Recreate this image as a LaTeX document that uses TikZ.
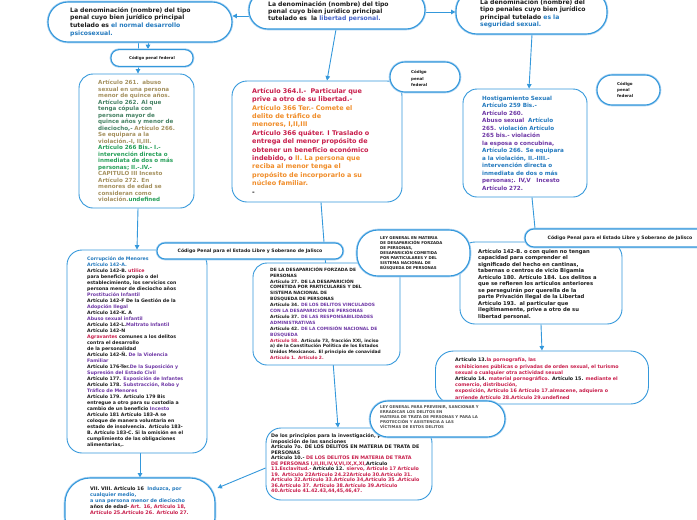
\documentclass[tikz,border=0pt]{standalone}
\usepackage{fontspec}
\setmainfont{DejaVu Sans}
\usetikzlibrary{arrows.meta,calc}
\definecolor{lineblue}{RGB}{52,152,219}
\definecolor{glowblue}{RGB}{170,210,242}
\definecolor{tblack}{RGB}{28,28,28}
\definecolor{tblue}{RGB}{36,122,190}
\definecolor{tperi}{RGB}{72,100,200}
\definecolor{tcrim}{RGB}{200,30,75}
\definecolor{torange}{RGB}{240,140,40}
\definecolor{tpurple}{RGB}{110,55,165}
\definecolor{tolive}{RGB}{165,145,95}
\definecolor{tgreen}{RGB}{40,160,90}
\definecolor{tgreend}{RGB}{70,130,100}
\definecolor{tgray}{RGB}{80,80,80}
\newcommand\tCr[1]{\textcolor{tcrim}{#1}}
\newcommand\tOr[1]{\textcolor{torange}{#1}}
\newcommand\tBl[1]{\textcolor{tblue}{#1}}
\newcommand\tPe[1]{\textcolor{tperi}{#1}}
\newcommand\tPu[1]{\textcolor{tpurple}{#1}}
\newcommand\tOl[1]{\textcolor{tolive}{#1}}
\newcommand\tGr[1]{\textcolor{tgreen}{#1}}
\newcommand\tGd[1]{\textcolor{tgreend}{#1}}
\newcommand\myfs[2]{\fontsize{#1}{#2}\selectfont}
\begin{document}
\begin{tikzpicture}[x=1pt,y=-1pt,
  box/.style={draw=lineblue,line width=0.9pt,fill=white,inner sep=0pt,rounded corners=14pt},
  pill/.style={draw=lineblue,line width=1.1pt,fill=white,inner sep=0pt,
    preaction={draw=glowblue,line width=2.6pt}},
  txt/.style={inner sep=0pt,anchor=north west,align=left,text width=420pt,text=tblack,font=\bfseries},
  conn/.style={draw=lineblue,line width=0.9pt},
  arr/.style={conn,-{Triangle[length=4.5pt,width=4.5pt]}}]
\path[use as bounding box,fill=white] (0,0) rectangle (697,520);

% ---------- shapes (positions only, for connectors) ----------
\path
  node[box,minimum width=184pt,minimum height=40pt,draw=none,fill=none] (A) at (140,22) {}
  node[box,minimum width=176pt,minimum height=38pt,draw=none,fill=none] (B) at (337,10) {}
  node[box,minimum width=151pt,minimum height=44pt,draw=none,fill=none] (C) at (531.5,12) {}
  node[box,minimum width=82pt,minimum height=16.7pt,draw=none,fill=none] (D) at (152,58) {}
  node[box,minimum width=115pt,minimum height=134pt,draw=none,fill=none] (E) at (136.5,141) {}
  node[box,minimum width=170pt,minimum height=121pt,draw=none,fill=none] (F) at (317,141.5) {}
  node[box,minimum width=124pt,minimum height=108pt,draw=none,fill=none] (H) at (525,143) {}
  node[box,minimum width=190pt,minimum height=18pt,draw=none,fill=none] (J) at (620,238) {}
  node[box,minimum width=140pt,minimum height=203pt,draw=none,fill=none] (L) at (137,351.5) {}
  node[box,minimum width=162pt,minimum height=82pt,draw=none,fill=none] (R) at (541,283) {}
  node[box,minimum width=213pt,minimum height=53pt,draw=none,fill=none] (S) at (542,377.5) {}
  node[box,minimum width=166pt,minimum height=72pt,draw=none,fill=none] (O) at (349,464) {}
  node[box,minimum width=150pt,minimum height=64pt,draw=none,fill=none] (Q) at (140,510) {};

% ---------- connectors ----------
\draw[arr] ($(B.west)+(0,6)$) -- ($(A.east)+(0,-6)$);
\draw[arr] ($(B.east)+(0,2)$) -- (C.west);
\draw[arr] ($(B.south)+(-1,0)$) -- ($(F.north)+(10,0)$);
\draw[arr] ($(C.south)+(0.5,0)$) -- ($(H.north)+(4,0)$);
\draw[arr] ($(A.south)+(-2,0)$) -- ($(E.north)+(1.5,0)$);
\draw[arr] ($(A.south)+(8,0)$) -- ($(D.north)+(-4,0)$);
\draw[arr] ($(E.south)+(1.5,0)$) -- ($(L.north)+(0,0)$);
\draw[arr] ($(L.south)+(3,0)$) -- (Q.north);
\draw[arr] ($(F.south)+(4,0)$) -- ($(O.north)+(-11,0)$);
\draw[conn] ($(H.south)+(7,0)$) -- ($(J.north)+(-85,0)$);
\draw[arr] (R.south) -- (S.north);
\draw[arr] ($(O.west)+(0,4)$) -- ($(Q.east)+(2,-22)$);

% ---------- boxes ----------
\node[box,minimum width=115pt,minimum height=134pt] (Eb) at (E) {};
\node[txt,font=\bfseries\myfs{5.6}{6.5}] (Etx) at (98,80.2) {%
\tOl{Artículo 261.\ \ abuso}\\
\tOl{sexual en una persona}\\
\tOl{menor de quince años.}\\
\tGd{Artículo 262. Al que}\\
\tGd{tenga cópula con}\\
\tGd{persona mayor de}\\
\tGd{quince años y menor de}\\
\tGd{dieciocho,-} \tOl{Artículo 266.}\\
\tOl{Se equipara a la}\\
\tOl{violación.-I, II,III.}\\
\tGr{Artículo 266 Bis.- I.-}\\
\tGr{intervención directa o}\\
\tGr{inmediata de dos o más}\\
\tGr{personas; II.-.IV.-}\\
\tOl{CAPITULO III Incesto}\\
\tOl{Artículo 272. En}\\
\tOl{menores de edad se}\\
\tOl{consideran como}\\
\tOl{violación.}\tGr{undefined}};

\node[box,minimum width=170pt,minimum height=121pt,rounded corners=15pt] (Fb) at (F) {};
\node[txt,font=\bfseries\myfs{6.45}{8.4}] (Ftx) at (252,88) {%
\tCr{Artículo 364.I.-\ \ Particular que}\\
\tCr{prive a otro de su libertad.-}\\
\tOr{Artículo 366 Ter.- Comete el}\\
\tOr{delito de tráfico de}\\
\tOr{menores, I,II,III}\\
\tCr{Artículo 366 quáter. I Traslado o}\\
\tCr{entrega del menor propósito de}\\
\tCr{obtener un beneficio económico}\\
\tCr{indebido, o} \tOr{II. La persona que}\\
\tOr{reciba al menor tenga el}\\
\tOr{propósito de incorporarlo a su}\\
\tOr{núcleo familiar.}\\
-};

\node[box,minimum width=124pt,minimum height=108pt] (Hb) at (H) {};
\node[txt,font=\bfseries\myfs{5.65}{7.5}] (Htx) at (482,95.8) {%
\tBl{Hostigamiento Sexual}\\
\tBl{Artículo 259 Bis.-}\\
\tPu{Artículo 260.}\\
\tPu{Abuso sexual}\ \ \tBl{Artículo}\\
\tPu{265.} \tBl{violación Artículo}\\
\tPu{265 bis.- violación}\\
\tPu{la esposa o concubina,}\\
\tBl{Artículo 266. Se equipara}\\
\tBl{a la violación, II.-IIII.-}\\
\tBl{intervención directa o}\\
\tBl{inmediata de dos o más}\\
\tPu{personas;. IV,V\ \ \ Incesto}\\
\tPu{Artículo 272.}};

\node[box,minimum width=140pt,minimum height=203pt,rounded corners=15pt] (Lb) at (L) {};
\node[txt,font=\bfseries\myfs{4.7}{6.0}] (Ltx) at (87,256.9) {%
\tBl{Corrupción de Menores}\\
\tBl{Artículo 142-A.}\\
Artículo 142-B. \tCr{utilice}\\
para beneficio propio o del\\
establecimiento, los servicios con\\
persona menor de dieciocho años\\
\tPu{Prostitución Infantil}\\
Artículo 142-F De la Gestión de la\\
\tPu{Adopción Ilegal}\\
Artículo 142-K. A\\
\tPu{Abuso sexual infantil}\\
Artículo 142-L.\tPu{Maltrato Infantil}\\
Artículo 142-N\\
\tCr{Agravantes} comunes a los delitos\\
contra el desarrollo\\
de la personalidad\\
Artículo 142-Ñ. \tPu{De la Violencia}\\
\tPu{Familiar}\\
Artículo 176-Ter.\tPu{De la Suposición y}\\
\tPu{Supresión del Estado Civil}\\
Artículo 177. \tPu{Exposición de Infantes}\\
Artículo 178. \tPu{Substracción, Robo y}\\
\tPu{Tráfico de Menores}\\
Artículo 179. Artículo 179 Bis\\
entregue a otro para su custodia a\\
cambio de un beneficio \tPu{Incesto}\\
Artículo 181 Artículo 183-A se\\
coloque de manera voluntaria en\\
estado de insolvencia. Artículo 183-\\
B. Artículo 183-C. Si la omisión en el\\
cumplimiento de las obligaciones\\
alimentarias,.};

\node[box,minimum width=147pt,minimum height=102pt] (M) at (326.5,314) {};
\node[txt,font=\bfseries\myfs{4.4}{5.9}] (Mtx) at (270,267) {%
DE LA DESAPARICIÓN FORZADA DE\\
PERSONAS\\
Artículo 27. DE LA DESAPARICIÓN\\
COMETIDA POR PARTICULARES Y DEL\\
SISTEMA NACIONAL DE\\
BÚSQUEDA DE PERSONAS\\
Artículo 34. \tPu{DE LOS DELITOS VINCULADOS}\\
\tPu{CON LA DESAPARICIÓN DE PERSONAS}\\
Artículo 37. \tPu{DE LAS RESPONSABILIDADES}\\
\tPu{ADMINISTRATIVAS}\\
Artículo 42. \tPu{DE LA COMISIÓN NACIONAL DE}\\
\tPu{BÚSQUEDA}\\
\tCr{Artículo 58.} Artículo 73, fracción XXI, inciso\\
a) de la Constitución Política de los Estados\\
Unidos Mexicanos. El principio de conavidad\\
\tCr{Artículo 1. Artículo 2.}};

\node[box,minimum width=162pt,minimum height=82pt,rounded corners=15pt] (Rb) at (R) {};
\node[txt,font=\bfseries\myfs{5.25}{6.5}] (Rtx) at (478,248.6) {%
Artículo 142-B. o con quien no tengan\\
capacidad para comprender el\\
significado del hecho en cantinas,\\
tabernas o centros de vicio Bigamia\\
Artículo 180. Artículo 184. Los delitos a\\
que se refieren los artículos anteriores\\
se perseguirán por querella de la\\
parte Privación Ilegal de la Libertad\\
Artículo 193.\ \ al particular que\\
ilegítimamente, prive a otro de su\\
libertad personal.};

\node[box,minimum width=213pt,minimum height=53pt,rounded corners=18pt] (Sb) at (S) {};
\node[txt,font=\bfseries\myfs{4.8}{6.2}] (Stx) at (455,357.8) {%
Artículo 13.\tCr{la pornografía, las}\\
\tCr{exhibiciones públicas o privadas de orden sexual, el turismo}\\
\tCr{sexual o cualquier otra actividad sexual}\\
Artículo 14. \tCr{material pornográfico.} Artículo 15. \tCr{mediante el}\\
\tCr{comercio, distribución,}\\
\tCr{exposición, Artículo 16 Artículo 17.almacene, adquiera o}\\
\tCr{arriende Artículo 28.Artículo 29.undefined}};

\node[box,minimum width=166pt,minimum height=72pt,rounded corners=15pt] (Ob) at (O) {};
\node[txt,font=\bfseries\myfs{4.8}{5.5}] (Otx) at (271,433.8) {%
De los principios para la investigación, procedimiento e\\
imposición de las sanciones\\
Artículo 7o. DE LOS DELITOS EN MATERIA DE TRATA DE\\
PERSONAS\\
Artículo 10.- \tCr{DE LOS DELITOS EN MATERIA DE TRATA}\\
\tCr{DE PERSONAS I,II,III,IV,V,VI,IX,X,XI,}Artículo\\
\tCr{11.Esclavitud.-} Artículo 12. \tCr{siervo, Artículo 17 Artículo}\\
\tCr{19. Artículo 22Artículo 24.22Artículo 30.Artículo 31.}\\
\tCr{Artículo 32.Artículo 33.Artículo 34,Artículo 35 .Artículo}\\
\tCr{36.Artículo 37. Artículo 38.Artículo 39.Artículo}\\
\tCr{40.Artículo 41.42.43,44,45,46,47.}};

% ---------- pills ----------
\node[pill,minimum width=184pt,minimum height=40pt,rounded corners=20pt] (Ab) at (A) {};
\node[txt,font=\bfseries\myfs{6.1}{7.6}] (Atx) at (70,7.3) {%
La denominación (nombre) del tipo\\
penal cuyo bien jurídico principal\\
tutelado es \tBl{el normal desarrollo}\\
\tBl{psicosexual.}};

\node[pill,minimum width=176pt,minimum height=38pt,rounded corners=19pt] (Bb) at (B) {};
\node[txt,font=\bfseries\myfs{6.1}{7.2}] (Btx) at (268,1.3) {%
La denominación (nombre) del tipo\\
penal cuyo bien jurídico principal\\
tutelado es\ \ la \tPe{libertad personal.}};

\node[pill,minimum width=151pt,minimum height=44pt,rounded corners=21pt] (Cb) at (C) {};
\node[txt,font=\bfseries\myfs{6.1}{7.5}] (Ctx) at (480,-1) {%
La denominación (nombre) del\\
tipo penales cuyo bien jurídico\\
principal tutelado \tBl{es la}\\
\tBl{seguridad sexual.}};

\node[pill,minimum width=82pt,minimum height=16.7pt,rounded corners=8pt,font=\bfseries\myfs{3.9}{5},text=tblack] (Db) at (D) {Código penal federal};

\node[pill,minimum width=70pt,minimum height=30pt,rounded corners=15pt] (G) at (425,77) {};
\node[txt,font=\bfseries\myfs{4}{6.5}] (Gtx) at (411,70.2) {Código\\penal\\federal};

\node[pill,minimum width=63pt,minimum height=30pt,rounded corners=15pt] (I) at (628.5,90) {};
\node[txt,font=\bfseries\myfs{4}{6}] (Itx) at (617,82.2) {Código\\penal\\federal};

\node[pill,minimum width=186pt,minimum height=16pt,rounded corners=8pt,font=\bfseries\myfs{4.6}{5.5},text=tblack] (K) at (250,251) {Código Penal para el Estado Libre y Soberano de Jalisco};

\node[pill,minimum width=190pt,minimum height=18pt,rounded corners=9pt,font=\bfseries\myfs{4.6}{5.5},text=tblack] (Jb) at (J) {Código Penal para el Estado Libre y Soberano de Jalisco};

\node[pill,minimum width=113pt,minimum height=46pt,rounded corners=21pt] (N) at (413.5,253) {};
\node[txt,font=\bfseries\myfs{3.9}{5}] (Ntx) at (380,236.3) {%
LEY GENERAL EN MATERIA\\
DE DESAPARICIÓN FORZADA\\
DE PERSONAS,\\
DESAPARICIÓN COMETIDA\\
POR PARTICULARES Y DEL\\
SISTEMA NACIONAL DE\\
BÚSQUEDA DE PERSONAS};

\node[pill,minimum width=135pt,minimum height=36pt,rounded corners=18pt] (P) at (437.5,419) {};
\node[txt,font=\bfseries\myfs{3.9}{5},text=tgray] (Ptx) at (380,405.3) {%
LEY GENERAL PARA PREVENIR, SANCIONAR Y\\
ERRADICAR LOS DELITOS EN\\
MATERIA DE TRATA DE PERSONAS Y PARA LA\\
PROTECCIÓN Y ASISTENCIA A LAS\\
VÍCTIMAS DE ESTOS DELITOS};

\node[pill,minimum width=150pt,minimum height=64pt,rounded corners=25pt] (Qb) at (Q) {};
\node[txt,font=\bfseries\myfs{4.9}{6}] (Qtx) at (90,486.8) {%
VII. VIII. Artículo 16\ \ \tBl{Induzca, por}\\
\tBl{cualquier medio,}\\
\tBl{a una persona menor de dieciocho}\\
años de edad- \tCr{Art. 16, Artículo 18,}\\
\tCr{Artículo 25.Artículo 26. Artículo 27.}};
\end{tikzpicture}
\end{document}
